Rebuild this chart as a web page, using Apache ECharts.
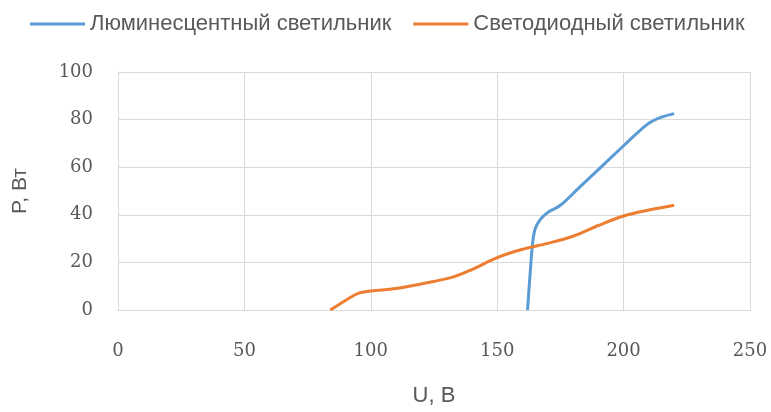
<!DOCTYPE html>
<html>
<head>
<meta charset="utf-8">
<script src="https://cdn.jsdelivr.net/npm/echarts@6/dist/echarts.min.js"></script>
<style>
  html, body { margin: 0; padding: 0; background: #ffffff; }
  #chart { width: 771px; height: 412px; }
</style>
</head>
<body>
<div id="chart"></div>
<script>
// Power draw vs supply voltage for two lamp types
const seriesNames = ['Люминесцентный светильник', 'Светодиодный светильник'];

// Fluorescent lamp: U (V), P (W)
const fluorU = [162, 163, 164, 165, 167, 170, 175, 182, 190, 200, 205, 210, 215, 220];
const fluorP = [0, 15, 28, 34, 38, 41, 44, 51, 59, 69, 74, 78.5, 81, 82.5];

// LED lamp: U (V), P (W)
const ledU = [84, 90, 95, 100, 110, 125, 133, 140, 150, 160, 170, 180, 190, 200, 210, 220];
const ledP = [0, 4, 7, 8, 9, 12, 14, 17, 22, 25.5, 28, 31, 35.5, 39.5, 42, 44];

const xTicks = [0, 50, 100, 150, 200, 250];
const yTicks = [0, 20, 40, 60, 80, 100];

const pairs = (xs, ys) => xs.map((x, i) => [x, ys[i]]);

const sansFont = '"Liberation Sans", Arial, sans-serif';
const tickFont = '"DejaVu Serif", serif';
const textColor = '#595959';
const gridColor = '#d9d9d9';

const chart = echarts.init(document.getElementById('chart'), null, { renderer: 'canvas' });
chart.setOption({
  animation: false,
  backgroundColor: '#ffffff',
  legend: {
    top: 8,
    left: 25,
    itemWidth: 55,
    itemHeight: 3,
    itemGap: 22,
    icon: 'rect',
    textStyle: { fontFamily: sansFont, fontSize: 22, color: textColor },
    data: seriesNames
  },
  grid: { left: 118, right: 21, top: 72, bottom: 102, containLabel: false, outerBoundsMode: 'none' },
  xAxis: {
    type: 'value',
    min: xTicks[0],
    max: xTicks[xTicks.length - 1],
    interval: 50,
    name: 'U, В',
    nameLocation: 'middle',
    nameGap: 75,
    nameTextStyle: { fontFamily: sansFont, fontSize: 22, color: textColor },
    axisLine: { show: true, lineStyle: { color: gridColor, width: 1 } },
    axisTick: { show: false },
    axisLabel: { margin: 32, fontFamily: tickFont, fontSize: 18, color: textColor },
    splitLine: { show: true, lineStyle: { color: gridColor, width: 1 } }
  },
  yAxis: {
    type: 'value',
    min: yTicks[0],
    max: yTicks[yTicks.length - 1],
    interval: 20,
    name: 'P, Вт',
    nameLocation: 'middle',
    nameGap: 87,
    nameTextStyle: { fontFamily: sansFont, fontSize: 21, color: textColor },
    axisLine: { show: true, lineStyle: { color: gridColor, width: 1 } },
    axisTick: { show: false },
    axisLabel: { margin: 25, fontFamily: tickFont, fontSize: 18, color: textColor },
    splitLine: { show: true, lineStyle: { color: gridColor, width: 1 } }
  },
  series: [
    {
      name: seriesNames[0],
      type: 'line',
      data: pairs(fluorU, fluorP),
      smooth: 0.35,
      showSymbol: false,
      symbol: 'none',
      lineStyle: { color: '#5b9bd5', width: 3 },
      itemStyle: { color: '#5b9bd5' }
    },
    {
      name: seriesNames[1],
      type: 'line',
      data: pairs(ledU, ledP),
      smooth: 0.35,
      showSymbol: false,
      symbol: 'none',
      lineStyle: { color: '#ed7d31', width: 3 },
      itemStyle: { color: '#ed7d31' }
    }
  ]
});
</script>
</body>
</html>
